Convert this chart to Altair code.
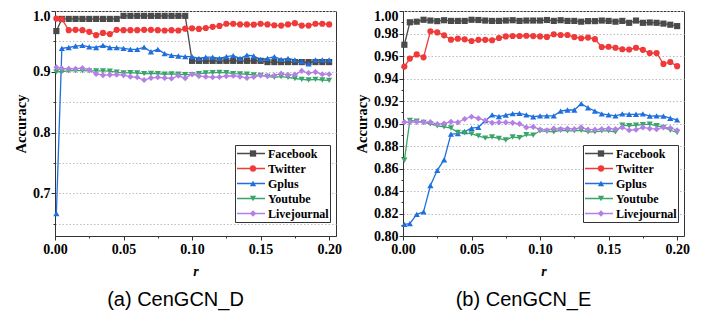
import altair as alt
import pandas as pd

r_vals = [0.001, 0.005, 0.01, 0.015, 0.02, 0.025, 0.03, 0.035, 0.04, 0.045, 0.05,
          0.055, 0.06, 0.065, 0.07, 0.075, 0.08, 0.085, 0.09, 0.095, 0.1,
          0.105, 0.11, 0.115, 0.12, 0.125, 0.13, 0.135, 0.14, 0.145, 0.15,
          0.155, 0.16, 0.165, 0.17, 0.175, 0.18, 0.185, 0.19, 0.195, 0.2]

series = ["Facebook", "Twitter", "Gplus", "Youtube", "Livejournal"]
colors = ["#4a4a4a", "#f03a3a", "#1f6fdf", "#3aa56a", "#b47fe6"]
shapes = ["square", "circle", "triangle-up", "triangle-down", "diamond"]

# (a) CenGCN_D
d_facebook = [0.967, 0.987, 0.987, 0.987, 0.987, 0.987, 0.987, 0.987, 0.987, 0.987, 0.992,
              0.992, 0.992, 0.992, 0.992, 0.992, 0.992, 0.992, 0.992, 0.992, 0.918,
              0.918, 0.918, 0.918, 0.918, 0.918, 0.918, 0.918, 0.918, 0.918, 0.918,
              0.916, 0.916, 0.916, 0.916, 0.916, 0.916, 0.916, 0.916, 0.916, 0.916]
d_twitter = [0.9875, 0.9865, 0.9685, 0.969, 0.9685, 0.9657, 0.9603, 0.964, 0.962, 0.969, 0.9685,
             0.9685, 0.9685, 0.969, 0.969, 0.9685, 0.968, 0.9685, 0.968, 0.971, 0.9715,
             0.9705, 0.972, 0.974, 0.9755, 0.979, 0.979, 0.978, 0.978, 0.9775, 0.979,
             0.978, 0.9765, 0.976, 0.978, 0.980, 0.976, 0.976, 0.979, 0.979, 0.978]
d_gplus = [0.667, 0.9385, 0.940, 0.9424, 0.9434, 0.941, 0.940, 0.9434, 0.940, 0.9397, 0.9386,
           0.937, 0.937, 0.9405, 0.933, 0.937, 0.930, 0.927, 0.926, 0.925, 0.925,
           0.922, 0.924, 0.924, 0.922, 0.925, 0.9265, 0.922, 0.9275, 0.926, 0.9205,
           0.922, 0.925, 0.9205, 0.922, 0.9195, 0.917, 0.913, 0.9195, 0.9195, 0.9195]
d_youtube = [0.900, 0.9005, 0.9015, 0.902, 0.902, 0.9015, 0.9015, 0.9015, 0.901, 0.8995, 0.898,
             0.8985, 0.898, 0.897, 0.8975, 0.897, 0.896, 0.8965, 0.896, 0.8955, 0.8955,
             0.897, 0.898, 0.8985, 0.899, 0.8985, 0.897, 0.8965, 0.896, 0.895, 0.894,
             0.8925, 0.891, 0.892, 0.891, 0.889, 0.8875, 0.8865, 0.8875, 0.8865, 0.886]
d_livejournal = [0.9075, 0.9055, 0.905, 0.905, 0.906, 0.903, 0.8965, 0.8945, 0.895, 0.8955, 0.8945,
                 0.892, 0.891, 0.8865, 0.890, 0.891, 0.890, 0.889, 0.8935, 0.8895, 0.896,
                 0.893, 0.892, 0.891, 0.8915, 0.893, 0.8935, 0.892, 0.890, 0.8915, 0.894,
                 0.893, 0.894, 0.897, 0.895, 0.8955, 0.9015, 0.898, 0.8995, 0.896, 0.896]

# (b) CenGCN_E
e_facebook = [0.970, 0.990, 0.9905, 0.9922, 0.9915, 0.991, 0.9918, 0.9912, 0.9912, 0.9912, 0.9922,
              0.992, 0.9915, 0.9912, 0.9912, 0.9915, 0.9918, 0.9912, 0.9915, 0.9915, 0.9915,
              0.992, 0.9912, 0.9918, 0.9912, 0.9912, 0.9905, 0.991, 0.991, 0.9915, 0.9912,
              0.9905, 0.9912, 0.9895, 0.9915, 0.9895, 0.9898, 0.9895, 0.9888, 0.9878, 0.9866]
e_twitter = [0.9506, 0.9577, 0.9614, 0.9588, 0.982, 0.981, 0.9784, 0.9745, 0.9754, 0.9748, 0.9733,
             0.9744, 0.9744, 0.974, 0.976, 0.9774, 0.9778, 0.9778, 0.978, 0.9777, 0.9774,
             0.977, 0.9793, 0.9787, 0.9787, 0.9768, 0.9758, 0.9764, 0.975, 0.968, 0.9682,
             0.9673, 0.966, 0.9658, 0.9673, 0.9655, 0.9626, 0.9626, 0.953, 0.9546, 0.951]
e_gplus = [0.8104, 0.811, 0.8192, 0.8215, 0.8449, 0.8584, 0.8678, 0.8906, 0.891, 0.8929, 0.8958,
           0.8966, 0.9025, 0.9076, 0.9062, 0.9074, 0.9088, 0.909, 0.9076, 0.906, 0.9068,
           0.9068, 0.9068, 0.911, 0.912, 0.912, 0.9176, 0.914, 0.911, 0.9085, 0.9076,
           0.9068, 0.9085, 0.9082, 0.9082, 0.9085, 0.9065, 0.9068, 0.9065, 0.9047, 0.9032]
e_youtube = [0.8673, 0.9027, 0.902, 0.901, 0.8997, 0.898, 0.897, 0.896, 0.892, 0.8917, 0.8908,
             0.889, 0.887, 0.888, 0.8867, 0.8853, 0.888, 0.8873, 0.890, 0.8896, 0.8935,
             0.893, 0.8925, 0.894, 0.8935, 0.8935, 0.894, 0.8925, 0.8925, 0.8935, 0.8935,
             0.8925, 0.8985, 0.898, 0.8985, 0.899, 0.8995, 0.898, 0.8965, 0.894, 0.892]
e_livejournal = [0.9012, 0.9012, 0.9015, 0.9012, 0.9012, 0.8995, 0.900, 0.9015, 0.901, 0.904, 0.906,
                 0.9045, 0.9027, 0.9006, 0.901, 0.901, 0.9006, 0.8997, 0.8965, 0.897, 0.8947,
                 0.894, 0.8955, 0.895, 0.8955, 0.895, 0.8965, 0.8945, 0.8945, 0.895, 0.8955,
                 0.895, 0.8965, 0.894, 0.8945, 0.8965, 0.8955, 0.895, 0.8965, 0.896, 0.894]

x_ticks = [0.0, 0.025, 0.05, 0.075, 0.1, 0.125, 0.15, 0.175, 0.2]
ya_ticks = [0.65, 0.7, 0.75, 0.8, 0.85, 0.9, 0.95, 1.0]
yb_ticks = [0.80, 0.81, 0.82, 0.83, 0.84, 0.85, 0.86, 0.87, 0.88, 0.89, 0.90,
            0.91, 0.92, 0.93, 0.94, 0.95, 0.96, 0.97, 0.98, 0.99, 1.00]

SERIF = "Liberation Serif"
SANS = "Liberation Sans"
PW, PH = 281, 225


def make_df(lists):
    rows = []
    for name, vals in zip(series, lists):
        for x, v in zip(r_vals, vals):
            rows.append({"r": x, "acc": v, "series": name})
    return pd.DataFrame(rows)


def panel(lists, ydomain, yticks, minor_test, yfmt, caption):
    df = make_df(lists)
    base = alt.Chart(df)
    x_minor = "round(datum.value*1000) % 50 != 0"
    x = alt.X(
        "r:Q",
        scale=alt.Scale(domain=[0, 0.205], nice=False, zero=False),
        axis=alt.Axis(
            values=x_ticks,
            labelExpr="(round(datum.value*1000) % 50 == 0) ? format(datum.value, '.2f') : ''",
            tickSize={"condition": {"test": x_minor, "value": 2}, "value": 4},
            grid=False,
            title="r",
            titleFontStyle="italic",
            titleFontSize=14,
            titlePadding=8,
            labelPadding=2,
        ),
    )
    y = alt.Y(
        "acc:Q",
        scale=alt.Scale(domain=ydomain, nice=False, zero=False),
        axis=alt.Axis(
            values=yticks,
            labelExpr="(" + minor_test + ") ? '' : format(datum.value, '" + yfmt + "')",
            tickSize={"condition": {"test": minor_test, "value": 2}, "value": 4},
            gridOpacity={"condition": {"test": minor_test, "value": 0 if yfmt == ".2f" else 1}, "value": 1},
            labelOffset={"condition": {"test": "datum.value >= 0.999", "value": 5}, "value": 0},
            title="Accuracy",
            titlePadding=4,
            labelPadding=1,
        ),
    )
    line_leg = alt.Legend(
        orient="none", legendX=180, legendY=134, title=None,
        symbolType="stroke", symbolSize=784, symbolStrokeWidth=1.4,
        labelFont=SERIF, labelFontWeight="bold", labelFontSize=12, labelColor="black",
        labelOffset=2, padding=1, clipHeight=15, rowPadding=0,
        strokeColor="#333333", fillColor="white",
    )
    pt_leg = alt.Legend(
        orient="none", legendX=191, legendY=134, title=None,
        symbolSize=40, symbolStrokeWidth=0, symbolOpacity=1,
        labelExpr="''", labelFontSize=12,
        labelOffset=2, padding=1, clipHeight=15, rowPadding=0,
    )
    line = base.mark_line(strokeWidth=1.3).encode(
        x=x, y=y,
        color=alt.Color("series:N", scale=alt.Scale(domain=series, range=colors), legend=line_leg),
        order="r:Q",
    )
    pts = base.mark_point(filled=True, size=38, opacity=1).encode(
        x=x, y=y,
        color=alt.Color("series:N", scale=alt.Scale(domain=series, range=colors), legend=pt_leg),
        shape=alt.Shape("series:N", scale=alt.Scale(domain=series, range=shapes), legend=pt_leg),
    )
    return (
        alt.layer(line, pts)
        .resolve_scale(color="independent", shape="independent")
        .properties(
            width=PW, height=PH,
            title=alt.TitleParams(
                caption, orient="bottom", anchor="middle", font=SANS, fontSize=20,
                fontWeight="normal", color="black", offset=12, dx=-20,
            ),
        )
    )


pa = panel([d_facebook, d_twitter, d_gplus, d_youtube, d_livejournal],
           [0.63, 1.0], ya_ticks, "round(datum.value*100) % 10 != 0", ".1f", "(a) CenGCN_D")
pb = panel([e_facebook, e_twitter, e_gplus, e_youtube, e_livejournal],
           [0.80, 1.0], yb_ticks, "round(datum.value*100) % 2 != 0", ".2f", "(b) CenGCN_E")

chart = (
    alt.hconcat(pa, pb, spacing=12)
    .resolve_scale(color="independent", shape="independent", x="independent", y="independent")
    .properties(padding={"left": 5, "top": 0, "right": 0, "bottom": 0})
    .configure_view(stroke="#333333", strokeWidth=1)
    .configure_axis(
        labelFont=SERIF, labelFontWeight="bold", labelFontSize=14, labelColor="black",
        titleFont=SERIF, titleFontWeight="bold", titleFontSize=14.5, titleColor="black",
        domainColor="#333333", tickColor="#333333", gridColor="#bdbdbd", gridDash=[1.5, 2],
        labelOverlap=False, labelFlush=False,
    )
)

chart.save("out.html", embed_options={"renderer": "svg", "actions": False})
